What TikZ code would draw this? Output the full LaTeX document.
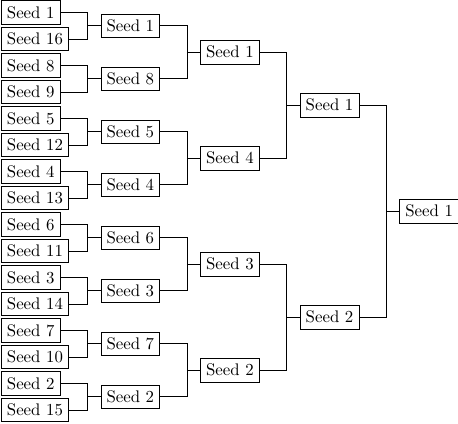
\documentclass[tikz,border=0pt]{standalone}
\usepackage{tikz}

\begin{document}
\begin{tikzpicture}[x=0.5952pt, y=-0.5952pt,
        seed/.style={draw, anchor=west}]
        \useasboundingbox (0,0) rectangle (458,423);
        \node[seed] (l1) at (1,12.5) {Seed 1};
        \node[seed] (l2) at (1,39) {Seed 16};
        \node[seed] (l3) at (1,65.5) {Seed 8};
        \node[seed] (l4) at (1,92) {Seed 9};
        \node[seed] (l5) at (1,118.5) {Seed 5};
        \node[seed] (l6) at (1,145) {Seed 12};
        \node[seed] (l7) at (1,171.5) {Seed 4};
        \node[seed] (l8) at (1,198) {Seed 13};
        \node[seed] (l9) at (1,224.5) {Seed 6};
        \node[seed] (l10) at (1,251) {Seed 11};
        \node[seed] (l11) at (1,277.5) {Seed 3};
        \node[seed] (l12) at (1,304) {Seed 14};
        \node[seed] (l13) at (1,330.5) {Seed 7};
        \node[seed] (l14) at (1,357) {Seed 10};
        \node[seed] (l15) at (1,383.5) {Seed 2};
        \node[seed] (l16) at (1,410) {Seed 15};
        \node[seed] (ra1) at (100.6,25.75) {Seed 1};
        \node[seed] (ra2) at (100.6,78.75) {Seed 8};
        \node[seed] (ra3) at (100.6,131.75) {Seed 5};
        \node[seed] (ra4) at (100.6,184.75) {Seed 4};
        \node[seed] (ra5) at (100.6,237.75) {Seed 6};
        \node[seed] (ra6) at (100.6,290.75) {Seed 3};
        \node[seed] (ra7) at (100.6,343.75) {Seed 7};
        \node[seed] (ra8) at (100.6,396.75) {Seed 2};
        \node[seed] (rb1) at (200.2,52.25) {Seed 1};
        \node[seed] (rb2) at (200.2,158.25) {Seed 4};
        \node[seed] (rb3) at (200.2,264.25) {Seed 3};
        \node[seed] (rb4) at (200.2,370.25) {Seed 2};
        \node[seed] (rc1) at (299.8,105.25) {Seed 1};
        \node[seed] (rc2) at (299.8,317.25) {Seed 2};
        \node[seed] (win) at (399.4,211.25) {Seed 1};
        \coordinate (fa1) at ([xshift=-7.9pt]ra1.west);
        \coordinate (fa2) at ([xshift=-7.9pt]ra2.west);
        \coordinate (fa3) at ([xshift=-7.9pt]ra3.west);
        \coordinate (fa4) at ([xshift=-7.9pt]ra4.west);
        \coordinate (fa5) at ([xshift=-7.9pt]ra5.west);
        \coordinate (fa6) at ([xshift=-7.9pt]ra6.west);
        \coordinate (fa7) at ([xshift=-7.9pt]ra7.west);
        \coordinate (fa8) at ([xshift=-7.9pt]ra8.west);
        \coordinate (fb1) at ([xshift=-7.9pt]rb1.west);
        \coordinate (fb2) at ([xshift=-7.9pt]rb2.west);
        \coordinate (fb3) at ([xshift=-7.9pt]rb3.west);
        \coordinate (fb4) at ([xshift=-7.9pt]rb4.west);
        \coordinate (fc1) at ([xshift=-7.9pt]rc1.west);
        \coordinate (fc2) at ([xshift=-7.9pt]rc2.west);
        \coordinate (fw) at ([xshift=-7.9pt]win.west);
        \draw (l1.east) -| (fa1) |- (l2.east) (fa1) -- (ra1.west);
        \draw (l3.east) -| (fa2) |- (l4.east) (fa2) -- (ra2.west);
        \draw (l5.east) -| (fa3) |- (l6.east) (fa3) -- (ra3.west);
        \draw (l7.east) -| (fa4) |- (l8.east) (fa4) -- (ra4.west);
        \draw (l9.east) -| (fa5) |- (l10.east) (fa5) -- (ra5.west);
        \draw (l11.east) -| (fa6) |- (l12.east) (fa6) -- (ra6.west);
        \draw (l13.east) -| (fa7) |- (l14.east) (fa7) -- (ra7.west);
        \draw (l15.east) -| (fa8) |- (l16.east) (fa8) -- (ra8.west);
        \draw (ra1.east) -| (fb1) |- (ra2.east) (fb1) -- (rb1.west);
        \draw (ra3.east) -| (fb2) |- (ra4.east) (fb2) -- (rb2.west);
        \draw (ra5.east) -| (fb3) |- (ra6.east) (fb3) -- (rb3.west);
        \draw (ra7.east) -| (fb4) |- (ra8.east) (fb4) -- (rb4.west);
        \draw (rb1.east) -| (fc1) |- (rb2.east) (fc1) -- (rc1.west);
        \draw (rb3.east) -| (fc2) |- (rb4.east) (fc2) -- (rc2.west);
        \draw (rc1.east) -| (fw) |- (rc2.east) (fw) -- (win.west);
    \end{tikzpicture}
\end{document}
